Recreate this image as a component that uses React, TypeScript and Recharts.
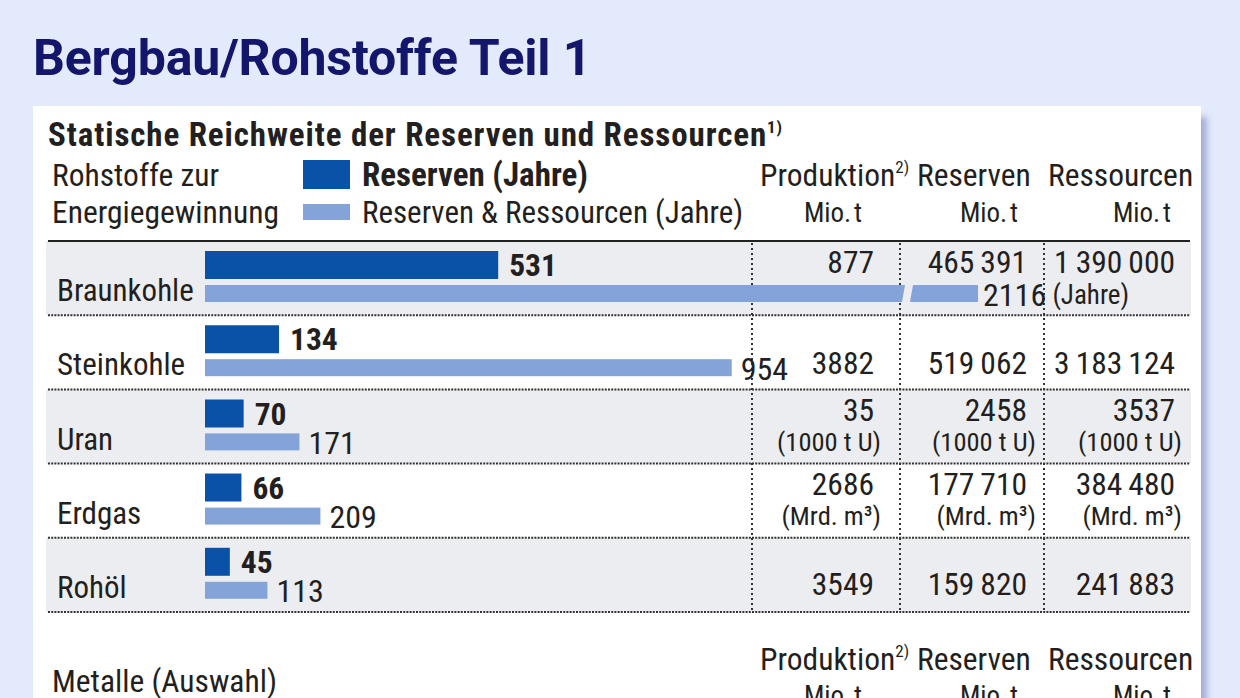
import { BarChart, Bar, XAxis, YAxis, LabelList } from 'recharts'

// Energierohstoffe: statische Reichweite in Jahren
const CATEGORIES = ['Braunkohle', 'Steinkohle', 'Uran', 'Erdgas', 'Rohöl']
const RESERVEN_JAHRE = [531, 134, 70, 66, 45]
const GESAMT_JAHRE = [2116, 954, 171, 209, 113]

// Tabellenspalten
const PRODUKTION = ['877', '3882', '35', '2686', '3549']
const RESERVEN = ['465\u2009391', '519\u2009062', '2458', '177\u2009710', '159\u2009820']
const RESSOURCEN = ['1\u2009390\u2009000', '3\u2009183\u2009124', '3537', '384\u2009480', '241\u2009883']
const EINHEITEN = ['', '', '(1000 t U)', '(Mrd. m³)', '']

const HEADERS = ['Produktion', 'Reserven', 'Ressourcen']

const INK = '#231f20'
const NAVY = '#13166a'
const DARK = '#0a52a8'
const LIGHT = '#84a3d8'
const GRAY = '#ecedf0'
const NARROW = "'Liberation Sans Narrow', 'Arial Narrow', 'Roboto Condensed', 'DejaVu Sans Condensed', sans-serif"
const FS = 31.5

const AXIS_MAX = 1400
const CHART_W = 1142
const CHART_H = 371
const MARGIN_R = 212

const ROW_TOP = 241
const ROW_H = 74.2
const NUM_BASE = [273, 374, 421, 495, 595]
const COL_NUM_RIGHT = [874, 1027, 1175]
const COL_UNIT_RIGHT = [881, 1036, 1182]
const COL_HEAD_X = [760, 917, 1048]
const MIO_RIGHT = [862, 1018, 1171]
const V_LINES = [752, 900, 1044]

const data = CATEGORIES.map((name, i) => ({
  name,
  reserven: RESERVEN_JAHRE[i],
  gesamt: GESAMT_JAHRE[i],
}))

const CategoryTick = ({ y, payload }: any) => (
  <text x={9} y={y + 25} fontFamily={NARROW} fontSize={31} fill={INK}>
    {payload.value}
  </text>
)

// long bar gets a break so it fits the plot
const BrokenBar = (props: any) => {
  const { x, y, width, height, fill, payload } = props
  if (!payload || payload.gesamt <= AXIS_MAX) {
    return <rect x={x} y={y} width={width} height={height} fill={fill} />
  }
  const end = x + width
  const tailStart = end - 65
  const mainEnd = tailStart - 8
  const s = 3
  return (
    <g>
      <path d={`M${x},${y}L${mainEnd},${y}L${mainEnd - s},${y + height}L${x},${y + height}Z`} fill={fill} />
      <path d={`M${tailStart},${y}L${end},${y}L${end},${y + height}L${tailStart - s},${y + height}Z`} fill={fill} />
    </g>
  )
}

const TotalLabel = (props: any) => {
  const vb = props.viewBox || {}
  const x = props.x ?? vb.x
  const y = props.y ?? vb.y
  const width = props.width ?? vb.width
  const height = props.height ?? vb.height
  const value = Number(props.value)
  const over = value > AXIS_MAX
  return (
    <text
      x={x + width + (over ? 5 : 9)}
      y={y + height / 2 + 1}
      dominantBaseline="central"
      fontFamily={NARROW}
      fontSize={32}
      fill={INK}
    >
      {value}
      {over && <tspan fontSize={27}> (Jahre)</tspan>}
    </text>
  )
}

function Sup({ children }: { children: string }) {
  return (
    <tspan dy={-13} fontSize={17}>
      {children}
    </tspan>
  )
}

function TableOverlay() {
  return (
    <svg width={1240} height={698} style={{ position: 'absolute', left: 0, top: 0 }}>
      {/* title */}
      <text x={33} y={75} fontFamily="Roboto" fontWeight={700} fontSize={50} fill={NAVY} letterSpacing={-0.15}>
        Bergbau/Rohstoffe Teil 1
      </text>

      {/* subtitle and legend */}
      <text x={48} y={146} fontFamily={NARROW} fontWeight={700} fontSize={33} fill={INK} letterSpacing={0.9}>
        Statische Reichweite der Reserven und Ressourcen<Sup>1)</Sup>
      </text>
      <text x={52} y={186} fontFamily={NARROW} fontSize={FS} fill={INK}>Rohstoffe zur</text>
      <text x={52} y={223} fontFamily={NARROW} fontSize={FS} fill={INK}>Energiegewinnung</text>
      <rect x={303} y={160} width={47} height={29} fill={DARK} />
      <rect x={303} y={204} width={47} height={16} fill={LIGHT} />
      <text x={362} y={186} fontFamily={NARROW} fontWeight={700} fontSize={33} fill={INK}>Reserven (Jahre)</text>
      <text x={362} y={223} fontFamily={NARROW} fontSize={31} fill={INK}>Reserven &amp; Ressourcen (Jahre)</text>

      {HEADERS.map((h, i) => (
        <text key={h} x={COL_HEAD_X[i]} y={186} fontFamily={NARROW} fontSize={FS} fill={INK}>
          {h}
          {i === 0 && <Sup>2)</Sup>}
        </text>
      ))}
      {MIO_RIGHT.map((r, i) => (
        <text key={i} x={r} y={222} textAnchor="end" fontFamily={NARROW} fontSize={27} fill={INK}>Mio.{'\u200A'}t</text>
      ))}

      {/* row backgrounds */}
      {CATEGORIES.map((c, i) =>
        i % 2 === 0 ? (
          <rect key={c} x={46} y={ROW_TOP + i * ROW_H} width={1145} height={ROW_H} fill={GRAY} />
        ) : null
      )}
      <line x1={48} x2={1190} y1={ROW_TOP} y2={ROW_TOP} stroke="#222" strokeWidth={2} />
      {CATEGORIES.map((c, i) => (
        <line
          key={c}
          x1={48}
          x2={1190}
          y1={ROW_TOP + (i + 1) * ROW_H}
          y2={ROW_TOP + (i + 1) * ROW_H}
          stroke="#333"
          strokeWidth={2}
          strokeDasharray="2 1.2"
        />
      ))}
      {V_LINES.map((vx) => (
        <line key={vx} x1={vx} x2={vx} y1={ROW_TOP + 2} y2={ROW_TOP + 5 * ROW_H} stroke="#333" strokeWidth={2} strokeDasharray="2 3" />
      ))}

      {/* table values */}
      {[PRODUKTION, RESERVEN, RESSOURCEN].map((col, ci) =>
        col.map((v, ri) => (
          <text key={`${ci}-${ri}`} x={COL_NUM_RIGHT[ci]} y={NUM_BASE[ri]} textAnchor="end" fontFamily={NARROW} fontSize={FS} fill={INK}>
            {v}
          </text>
        ))
      )}
      {EINHEITEN.map((u, ri) =>
        u
          ? COL_UNIT_RIGHT.map((r, ci) => (
              <text key={`${ri}-${ci}`} x={r} y={NUM_BASE[ri] + 30} textAnchor="end" fontFamily={NARROW} fontSize={26.5} fill={INK}>
                {u}
              </text>
            ))
          : null
      )}

      {/* Metalle header */}
      <text x={52} y={692} fontFamily={NARROW} fontSize={FS} fill={INK}>Metalle (Auswahl)</text>
      {HEADERS.map((h, i) => (
        <text key={h} x={COL_HEAD_X[i]} y={670} fontFamily={NARROW} fontSize={FS} fill={INK}>
          {h}
          {i === 0 && <Sup>2)</Sup>}
        </text>
      ))}
      {MIO_RIGHT.map((r, i) => (
        <text key={i} x={r} y={705} textAnchor="end" fontFamily={NARROW} fontSize={27} fill={INK}>Mio.{'\u200A'}t</text>
      ))}
    </svg>
  )
}

export default function App() {
  return (
    <div style={{ position: 'fixed', left: 0, top: 0, width: 1240, height: 698, overflow: 'hidden', background: '#e2eafb' }}>
      <div
        style={{
          position: 'absolute',
          left: 33,
          top: 106,
          width: 1168,
          height: 640,
          background: '#fff',
          boxShadow: '9px 8px 6px -3px #a7afdb',
        }}
      />
      <TableOverlay />
      <div style={{ position: 'absolute', left: 48, top: 239 }}>
        <BarChart
          width={CHART_W}
          height={CHART_H}
          data={data}
          layout="vertical"
          margin={{ top: 0, right: MARGIN_R, bottom: 0, left: 0 }}
          barGap={6}
        >
          <XAxis type="number" hide domain={[0, AXIS_MAX]} />
          <YAxis type="category" dataKey="name" width={157} axisLine={false} tickLine={false} tick={<CategoryTick />} />
          <Bar dataKey="reserven" fill={DARK} barSize={28} isAnimationActive={false}>
            <LabelList
              dataKey="reserven"
              position="right"
              offset={11}
              fill={INK}
              fontFamily={NARROW}
              fontWeight={700}
              fontSize={31.5}
            />
          </Bar>
          <Bar
            dataKey={(d: any) => Math.min(d.gesamt, AXIS_MAX)}
            fill={LIGHT}
            barSize={17}
            shape={<BrokenBar />}
            isAnimationActive={false}
          >
            <LabelList dataKey="gesamt" content={<TotalLabel />} />
          </Bar>
        </BarChart>
      </div>
    </div>
  )
}
